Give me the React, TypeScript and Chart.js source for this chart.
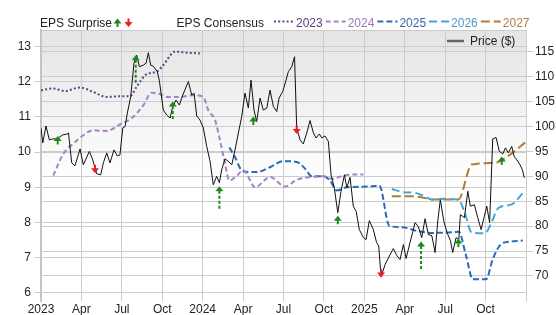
import React, { useEffect, useRef } from "react";
import { Chart, registerables } from "chart.js";

Chart.register(...registerables);

// ---- axis ticks ----
const xTickMonths = [0, 3, 6, 9, 12, 15, 18, 21, 24, 27, 30, 33];
const xTickLabels = ["2023", "Apr", "Jul", "Oct", "2024", "Apr", "Jul", "Oct", "2025", "Apr", "Jul", "Oct"];
const epsTicks = [6, 7, 8, 9, 10, 11, 12, 13];
const priceTicks = [70, 75, 80, 85, 90, 95, 100, 105, 110, 115];

// ---- price (months since Jan 2023, $) ----
const priceMonths = [
  0, 0.13, 0.37, 0.62, 0.85, 1.17, 1.61, 1.95, 2.04, 2.28,
  2.52, 2.9, 3.14, 3.59, 3.84, 4.14, 4.43, 4.63, 4.88, 5.12,
  5.42, 5.66, 5.86, 6.07, 6.24, 6.41, 6.66, 6.9, 7.1, 7.3,
  7.59, 7.8, 7.97, 8.14, 8.34, 8.63, 8.78, 9.08, 9.33, 9.58,
  9.78, 10.02, 10.27, 10.52, 10.94, 11.19, 11.36, 11.56, 11.8, 12.05,
  12.3, 12.55, 12.79, 13.04, 13.24, 13.41, 13.66, 13.91, 14.16, 14.4,
  14.65, 14.9, 15.14, 15.39, 15.59, 15.81, 16.01, 16.26, 16.5, 16.76,
  17.0, 17.25, 17.5, 17.67, 17.94, 18.19, 18.36, 18.61, 18.82, 18.98,
  19.23, 19.47, 19.73, 19.97, 20.22, 20.42, 20.66, 20.84, 21.08, 21.33,
  21.53, 21.77, 22.03, 22.27, 22.52, 22.7, 22.94, 23.18, 23.39, 23.63,
  23.93, 24.13, 24.37, 24.67, 24.91, 25.07, 25.24, 25.54, 25.86, 26.15,
  26.41, 26.65, 26.9, 27.1, 27.39, 27.77, 28.01, 28.26, 28.51, 28.75,
  29.01, 29.25, 29.45, 29.64, 29.9, 30.14, 30.39, 30.56, 30.81, 31.01,
  31.13, 31.43, 31.68, 31.87, 32.17, 32.42, 32.67, 32.91, 33.09, 33.3,
  33.53, 33.78, 34.02, 34.28, 34.47, 34.69, 34.94, 35.12, 35.32, 35.56,
  35.73, 35.88,
];
const priceValues = [
  99.7, 96.7, 100.1, 97.3, 97.5, 97.5, 98.3, 98.5, 98.7, 92.7,
  92.1, 95.5, 92.3, 95.0, 93.3, 90.5, 90.3, 92.7, 94.7, 92.7,
  95.3, 94.1, 94.3, 99.7, 100.0, 102.7, 106.0, 112.7, 114.3, 112.0,
  112.3, 112.7, 114.8, 112.3, 112.1, 111.0, 109.3, 103.3, 102.3, 101.7,
  104.0, 105.3, 104.3, 106.3, 109.0, 106.3, 106.7, 102.1, 101.3, 99.7,
  96.0, 93.0, 88.3, 90.0, 88.7, 91.3, 93.5, 93.0, 92.3, 95.3,
  98.7, 102.0, 106.7, 103.7, 109.3, 103.3, 101.0, 105.7, 103.3, 103.7,
  107.3, 104.0, 103.0, 105.7, 107.0, 109.3, 111.0, 112.0, 114.0, 99.7,
  97.3, 96.5, 98.7, 101.2, 98.7, 97.7, 98.5, 97.7, 98.1, 97.0,
  90.3, 87.7, 82.7, 87.0, 90.3, 87.7, 89.8, 84.0, 83.0, 79.3,
  77.7, 77.3, 81.1, 79.3, 76.7, 76.0, 69.8, 72.3, 74.0, 75.5,
  74.1, 73.3, 76.3, 73.5, 76.7, 80.7, 79.9, 77.7, 81.5, 78.3,
  78.1, 74.7, 81.0, 85.3, 81.0, 78.7, 77.1, 74.7, 77.7, 77.3,
  82.3, 81.7, 87.0, 84.0, 84.3, 81.7, 79.3, 82.0, 84.0, 80.7,
  97.5, 97.8, 95.0, 94.5, 95.7, 94.7, 96.0, 94.0, 93.3, 92.3,
  91.3, 89.7,
];

// ---- EPS consensus by fiscal year ----
const eps2023Months = [0, 0.91, 1.78, 2.9, 3.88, 4.88, 5.86, 6.61, 7.1, 7.85, 8.59, 9.08, 9.95, 10.82, 11.8];
const eps2023Values = [11.76, 11.81, 11.74, 11.84, 11.71, 11.57, 11.59, 11.59, 11.86, 12.22, 12.29, 12.48, 12.86, 12.83, 12.81];

const eps2024Months = [0.91, 1.66, 2.4, 3.14, 3.88, 4.88, 5.86, 6.61, 7.1, 7.59, 8.21, 8.71, 9.33, 10.32, 11.31, 12.05, 12.42, 12.92, 13.29, 13.66, 13.98, 14.53, 15.02, 15.89, 17.0, 18.11, 18.98, 19.97, 20.96, 21.58, 22.44, 23.18, 23.93];
const eps2024Values = [9.33, 9.95, 10.24, 10.48, 10.62, 10.6, 10.79, 10.93, 11.1, 11.33, 11.69, 11.67, 11.57, 11.57, 11.62, 11.57, 11.19, 10.91, 10.33, 9.67, 9.19, 9.33, 9.48, 9.0, 9.29, 9.02, 9.21, 9.29, 9.31, 9.24, 9.33, 9.36, 9.36];

const eps2025Months = [13.98, 14.4, 14.9, 15.44, 16.01, 17.0, 17.99, 18.97, 19.6, 20.1, 20.96, 21.45, 21.95, 22.7, 24.42, 25.11, 25.86, 26.85, 27.84, 29.08, 30.07, 31.01, 31.55, 32.05, 33.04, 33.53, 34.15, 34.77, 35.76];
const eps2025Values = [10.13, 9.86, 9.48, 9.43, 9.43, 9.57, 9.74, 9.72, 9.53, 9.31, 9.31, 9.19, 8.91, 9.0, 9.02, 9.05, 7.9, 7.86, 7.76, 7.7, 7.71, 7.73, 7.05, 6.38, 6.38, 6.95, 7.38, 7.45, 7.48];

const eps2026Months = [26.04, 26.9, 27.77, 28.38, 29.01, 29.87, 30.98, 31.48, 31.97, 32.96, 33.39, 33.95, 34.94, 35.81];
const eps2026Values = [8.95, 8.86, 8.84, 8.76, 8.65, 8.67, 8.65, 8.24, 7.71, 7.69, 7.95, 8.41, 8.51, 8.86];

const eps2027Months = [26.04, 27.64, 28.38, 29.01, 30.98, 31.97, 33.7, 34.2, 35.06, 35.93];
const eps2027Values = [8.74, 8.74, 8.7, 8.65, 8.65, 9.65, 9.69, 9.77, 10.0, 10.27];

// ---- EPS surprises (drawn on price scale) ----
const surpriseMonths = [1.24, 4.01, 7.03, 9.78, 13.24, 15.76, 18.98, 22.03, 25.24, 28.21, 30.98, 34.2];
const surpriseTip = [98.1, 90.6, 114.3, 105.0, 88.0, 102.0, 98.5, 82.1, 69.7, 76.9, 77.5, 94.0];
const surpriseTail = [96.7, 92.1, 108.7, 101.3, 83.3, 100.7, 99.9, 80.5, 71.3, 71.3, 76.0, 92.7];
const surpriseBeat = [true, false, true, true, true, true, false, true, false, true, true, true];

const FONT = "'Liberation Sans', Arial, Helvetica, sans-serif";
const GREEN = "#1b8a1b";
const RED = "#ee1d1d";

const yearStyles = [
  { label: "2023", line: "#6b3c8e", text: "#5f3a80", dash: [2, 2.2] },
  { label: "2024", line: "#a583c4", text: "#9a7ab8", dash: [5, 3] },
  { label: "2025", line: "#2a6ab8", text: "#3a68a6", dash: [6, 3] },
  { label: "2026", line: "#45a6d4", text: "#4d9bc6", dash: [8, 4] },
  { label: "2027", line: "#b37b33", text: "#a97f48", dash: [9, 4] },
];

function pts(xs: number[], ys: number[]) {
  return xs.map((x, i) => ({ x, y: ys[i] }));
}

function drawArrow(ctx: CanvasRenderingContext2D, x: number, tip: number, tail: number, up: boolean) {
  ctx.save();
  const color = up ? GREEN : RED;
  ctx.fillStyle = color;
  ctx.strokeStyle = color;
  const dir = up ? 1 : -1;
  ctx.beginPath();
  ctx.moveTo(x, tip);
  ctx.lineTo(x - 4, tip + dir * 5);
  ctx.lineTo(x + 4, tip + dir * 5);
  ctx.closePath();
  ctx.fill();
  const start = tip + dir * 4.5;
  let end = tail;
  if ((end - start) * dir < 4) end = start + dir * 4;
  ctx.lineWidth = 2;
  const long = Math.abs(end - start) > 7;
  ctx.setLineDash(long ? [3, 2] : []);
  ctx.beginPath();
  ctx.moveTo(x, start);
  ctx.lineTo(x, end);
  ctx.stroke();
  ctx.restore();
}

const bgPlugin = {
  id: "bg",
  beforeDraw(chart: any) {
    const { ctx, chartArea: a } = chart;
    ctx.save();
    const g = ctx.createLinearGradient(0, a.top, 0, a.bottom);
    g.addColorStop(0, "#e4e4e4");
    g.addColorStop(0.55, "#ffffff");
    g.addColorStop(1, "#ffffff");
    ctx.fillStyle = g;
    ctx.fillRect(a.left, a.top, a.right - a.left, a.bottom - a.top);
    ctx.strokeStyle = "#cccccc";
    ctx.lineWidth = 1;
    ctx.beginPath();
    ctx.moveTo(a.left, a.top + 0.5);
    ctx.lineTo(a.right, a.top + 0.5);
    ctx.stroke();
    ctx.restore();
  },
};

const arrowPlugin = {
  id: "arrows",
  afterDatasetsDraw(chart: any) {
    const { ctx, scales } = chart;
    const xs = scales.x;
    const ys = scales.y2;
    surpriseMonths.forEach((m, i) => {
      const x = xs.getPixelForValue(m);
      drawArrow(ctx, x, ys.getPixelForValue(surpriseTip[i]), ys.getPixelForValue(surpriseTail[i]), surpriseBeat[i]);
    });
  },
};

const legendPlugin = {
  id: "customLegend",
  afterDraw(chart: any) {
    const { ctx, chartArea: a } = chart;
    ctx.save();
    ctx.font = `12px ${FONT}`;
    ctx.textBaseline = "alphabetic";
    ctx.textAlign = "left";
    const base = 26.5;
    const lineY = 21.5;
    ctx.fillStyle = "#222";
    ctx.fillText("EPS Surprise", 40, base);
    drawArrow(ctx, 117.5, 18.5, 27, true);
    drawArrow(ctx, 128.5, 27, 18.5, false);
    ctx.fillStyle = "#222";
    ctx.fillText("EPS Consensus", 176.5, base);
    let x = 274;
    yearStyles.forEach((s) => {
      ctx.strokeStyle = s.line;
      ctx.lineWidth = 2;
      ctx.setLineDash(s.dash);
      ctx.beginPath();
      ctx.moveTo(x, lineY);
      ctx.lineTo(x + 20, lineY);
      ctx.stroke();
      ctx.setLineDash([]);
      ctx.fillStyle = s.text;
      ctx.fillText(s.label, x + 22, base);
      x += 22 + ctx.measureText(s.label).width + 3;
    });
    // price legend inside plot
    ctx.strokeStyle = "#666";
    ctx.lineWidth = 2.5;
    ctx.beginPath();
    ctx.moveTo(a.right - 79, 41);
    ctx.lineTo(a.right - 62, 41);
    ctx.stroke();
    ctx.fillStyle = "#222";
    ctx.font = `12px ${FONT}`;
    ctx.fillText("Price ($)", a.right - 56, 45);
    ctx.restore();
  },
};

export default function App() {
  const ref = useRef<HTMLCanvasElement>(null);
  useEffect(() => {
    document.body.style.margin = "0";
    const canvas = ref.current;
    if (!canvas) return;
    const tickFont = { family: FONT, size: 12 };
    const consensus = [
      [eps2023Months, eps2023Values],
      [eps2024Months, eps2024Values],
      [eps2025Months, eps2025Values],
      [eps2026Months, eps2026Values],
      [eps2027Months, eps2027Values],
    ].map(([xs, ys], i) => ({
      label: yearStyles[i].label,
      data: pts(xs as number[], ys as number[]),
      yAxisID: "y",
      borderColor: yearStyles[i].line,
      borderWidth: 2,
      borderDash: yearStyles[i].dash,
      pointRadius: 0,
      cubicInterpolationMode: "monotone" as const,
      fill: false,
    }));
    const chart = new Chart(canvas, {
      type: "line",
      data: {
        datasets: [
          {
            label: "Price ($)",
            data: pts(priceMonths, priceValues),
            yAxisID: "y2",
            borderColor: "#111",
            borderWidth: 1,
            pointRadius: 0,
            tension: 0,
            fill: false,
          },
          ...consensus,
        ],
      },
      options: {
        responsive: false,
        animation: false,
        layout: { padding: { top: 30, left: 0, right: 0, bottom: 0 } },
        plugins: { legend: { display: false }, tooltip: { enabled: false } },
        scales: {
          x: {
            type: "linear",
            min: 0,
            max: 36,
            afterBuildTicks: (s: any) => {
              s.ticks = xTickMonths.map((v) => ({ value: v }));
            },
            afterFit: (s: any) => {
              s.height = 14;
            },
            ticks: {
              autoSkip: false,
              maxRotation: 0,
              padding: 1,
              color: "#222",
              font: tickFont,
              callback: (v: any) => xTickLabels[xTickMonths.indexOf(Number(v))] ?? "",
            },
            grid: { color: "#cccccc", drawTicks: false },
            border: { display: false },
          },
          y: {
            position: "left",
            min: 5.761,
            max: 13.476,
            afterBuildTicks: (s: any) => {
              s.ticks = epsTicks.map((v) => ({ value: v }));
            },
            afterFit: (s: any) => {
              s.width = 41;
            },
            ticks: { padding: 3, color: "#222", font: tickFont },
            grid: { color: "#cccccc", tickLength: 7 },
            border: { color: "#c4c4c4", width: 2 },
          },
          y2: {
            position: "right",
            min: 64.98,
            max: 119.36,
            afterBuildTicks: (s: any) => {
              s.ticks = priceTicks.map((v) => ({ value: v }));
            },
            afterFit: (s: any) => {
              s.width = 30;
            },
            ticks: { padding: 2, color: "#222", font: tickFont },
            grid: { color: "#cccccc", tickLength: 7 },
            border: { color: "#cccccc", width: 1 },
          },
        },
      },
      plugins: [bgPlugin, arrowPlugin, legendPlugin],
    } as any);
    return () => chart.destroy();
  }, []);
  return (
    <div style={{ width: 556, height: 315 }}>
      <canvas ref={ref} width={556} height={315} style={{ display: "block" }} />
    </div>
  );
}
